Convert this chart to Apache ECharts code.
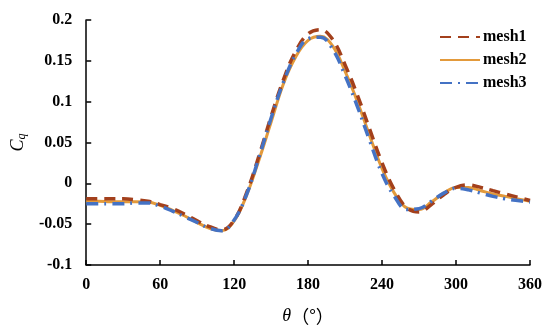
<!DOCTYPE html>
<html><head><meta charset="utf-8">
<script src="https://cdn.jsdelivr.net/npm/echarts@6/dist/echarts.min.js"></script>
<style>html,body{margin:0;padding:0;background:#fff}#c{width:550px;height:331px}</style>
</head><body><div id="c"></div>
<script>
const theta = [0,10,20,30,40,50,60,70,80,90,100,110,120,130,140,150,160,170,180,190,200,210,220,230,240,250,260,270,280,290,300,310,320,330,340,350,360];
const mesh1 = [-0.019,-0.019,-0.019,-0.019,-0.020,-0.022,-0.026,-0.031,-0.038,-0.046,-0.053,-0.057,-0.045,-0.012,0.033,0.082,0.127,0.162,0.183,0.188,0.176,0.145,0.108,0.066,0.025,-0.008,-0.030,-0.035,-0.026,-0.014,-0.005,-0.002,-0.005,-0.009,-0.013,-0.017,-0.021];
const mesh2 = [-0.022,-0.022,-0.0225,-0.0225,-0.0225,-0.023,-0.027,-0.033,-0.040,-0.048,-0.055,-0.058,-0.046,-0.015,0.028,0.075,0.122,0.155,0.175,0.180,0.168,0.137,0.100,0.058,0.018,-0.012,-0.030,-0.032,-0.023,-0.012,-0.005,-0.005,-0.009,-0.013,-0.016,-0.019,-0.022];
const mesh3 = [-0.025,-0.025,-0.025,-0.025,-0.024,-0.024,-0.028,-0.034,-0.041,-0.048,-0.055,-0.058,-0.045,-0.014,0.031,0.080,0.124,0.158,0.177,0.179,0.164,0.132,0.094,0.052,0.012,-0.016,-0.032,-0.031,-0.022,-0.012,-0.006,-0.008,-0.012,-0.016,-0.019,-0.021,-0.023];
const seriesNames = ['mesh1','mesh2','mesh3'];
const xTicks = [0,60,120,180,240,300,360];
const yTicks = [-0.1,-0.05,0,0.05,0.1,0.15,0.2];

const pair = (ys) => theta.map((t,i)=>[t,ys[i]]);
const font = "'Liberation Serif','Times New Roman',serif";
const chart = echarts.init(document.getElementById('c'));
chart.setOption({
  animation:false,
  backgroundColor:'#fff',
  grid:{left:82,right:20,top:20,bottom:66},
  legend:{
    orient:'vertical', left:434, top:24, itemGap:7, itemWidth:40, itemHeight:14,
    data:seriesNames,
    itemStyle:{opacity:0},
    textStyle:{fontFamily:font,fontWeight:'bold',fontSize:16,color:'#000',padding:[0,0,0,-2]}
  },
  xAxis:{
    type:'value', min:xTicks[0], max:xTicks[xTicks.length-1], interval:60,
    axisLine:{onZero:false,lineStyle:{color:'#000',width:1.5}},
    axisTick:{inside:true,length:5,lineStyle:{color:'#000',width:1.5}},
    axisLabel:{margin:12,fontFamily:font,fontWeight:'bold',fontSize:16,color:'#000'},
    splitLine:{show:false},
    name:'{t|θ}{p|（°）}', nameLocation:'middle', nameGap:42,
    nameTextStyle:{rich:{
      t:{fontFamily:font,fontStyle:'italic',fontSize:18,color:'#000'},
      p:{fontFamily:"'Noto Sans CJK SC',sans-serif",fontSize:18,color:'#000'}
    }}
  },
  yAxis:{
    type:'value', min:yTicks[0], max:yTicks[yTicks.length-1], interval:0.05,
    axisLine:{show:true,onZero:false,lineStyle:{color:'#000',width:1.5}},
    axisTick:{show:true,inside:true,length:5,lineStyle:{color:'#000',width:1.5}},
    axisLabel:{margin:14,fontFamily:font,fontWeight:'bold',fontSize:16,color:'#000',
      formatter:v=>String(parseFloat(v.toFixed(2)))},
    splitLine:{show:false},
    name:'{c|C}{q|q}', nameLocation:'middle', nameGap:53, nameRotate:90,
    nameTextStyle:{rich:{
      c:{fontFamily:font,fontStyle:'italic',fontSize:18,color:'#000',lineHeight:20},
      q:{fontFamily:font,fontStyle:'italic',fontSize:12,color:'#000',verticalAlign:'bottom',lineHeight:20,padding:[8,0,0,0]}
    }}
  },
  series:[
    {name:seriesNames[0],type:'line',data:pair(mesh1),smooth:0.4,symbol:'none',z:3,
      lineStyle:{color:'#A3401C',width:3.5,type:[11,7]},itemStyle:{color:'#A3401C'}},
    {name:seriesNames[1],type:'line',data:pair(mesh2),smooth:0.4,symbol:'none',z:2,
      lineStyle:{color:'#E39A3B',width:3,type:'solid'},itemStyle:{color:'#E39A3B'}},
    {name:seriesNames[2],type:'line',data:pair(mesh3),smooth:0.4,symbol:'none',z:4,
      lineStyle:{color:'#4472C4',width:3.5,type:[12,6,2,6]},itemStyle:{color:'#4472C4'}}
  ]
});
</script></body></html>
